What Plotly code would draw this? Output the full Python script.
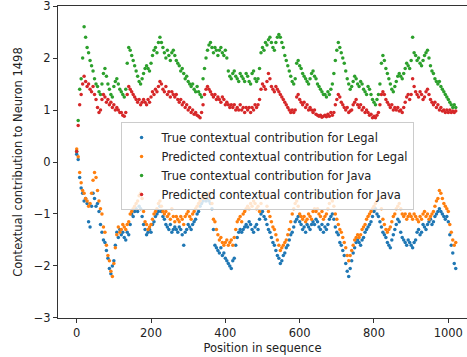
import plotly.graph_objects as go

positions = list(range(0, 1024, 4))

true_legal = [
 0.15,0.05,-0.3,-0.5,-0.6,-0.75,-0.7,-0.8,-1.15,-1.25,
 -0.85,-0.6,-0.7,-0.85,-0.8,-0.95,-1.2,-1.35,-1.5,-1.55,
 -1.7,-1.85,-2.05,-2.15,-2.0,-1.9,-1.6,-1.35,-1.45,-1.3,
 -1.4,-1.35,-1.45,-1.5,-1.35,-1.4,-1.2,-1.0,-1.05,-0.95,
 -0.9,-0.95,-0.85,-0.9,-1.05,-1.2,-1.3,-1.4,-1.35,-1.3,
 -1.35,-1.2,-1.15,-1.05,-1.0,-0.95,-0.85,-0.95,-1.05,-1.1,
 -1.2,-1.25,-1.3,-1.2,-1.35,-1.3,-1.25,-1.3,-1.35,-1.25,
 -1.3,-1.4,-1.6,-1.35,-1.3,-1.2,-1.25,-1.3,-1.2,-1.15,
 -1.1,-1.0,-0.95,-0.85,-0.8,-0.75,-0.7,-0.75,-0.7,-0.75,
 -0.8,-0.9,-1.3,-1.6,-1.65,-1.7,-1.75,-1.65,-1.8,-1.75,
 -1.85,-1.9,-1.95,-2.0,-2.05,-1.9,-1.85,-1.6,-1.45,-1.35,
 -1.3,-1.35,-1.3,-1.25,-1.2,-1.25,-1.15,-1.2,-1.3,-1.35,
 -1.25,-1.2,-1.3,-1.1,-1.0,-0.95,-1.05,-1.1,-1.2,-1.3,
 -1.35,-1.45,-1.55,-1.6,-1.7,-1.8,-1.85,-1.95,-1.9,-1.8,
 -1.75,-1.65,-1.6,-1.5,-1.4,-1.35,-1.25,-1.15,-1.1,-1.05,
 -1.15,-1.2,-1.3,-1.25,-1.35,-1.2,-1.25,-1.3,-1.2,-1.15,
 -1.2,-1.1,-1.15,-1.25,-1.3,-1.2,-1.35,-1.25,-1.3,-1.2,
 -1.1,-1.05,-1.0,-1.1,-1.25,-1.35,-1.4,-1.55,-1.6,-1.7,
 -1.8,-1.95,-2.1,-2.2,-2.05,-1.9,-1.75,-1.65,-1.55,-1.5,
 -1.55,-1.6,-1.5,-1.45,-1.35,-1.3,-1.25,-1.2,-1.15,-1.05,
 -0.95,-0.9,-1.0,-1.05,-1.15,-1.25,-1.35,-1.4,-1.45,-1.55,
 -1.6,-1.65,-1.5,-1.4,-1.3,-1.2,-1.1,-1.15,-1.35,-1.45,
 -1.5,-1.55,-1.6,-1.5,-1.55,-1.6,-1.65,-1.55,-1.5,-1.35,
 -1.3,-1.4,-1.35,-1.2,-1.25,-1.3,-1.2,-1.15,-1.1,-1.2,
 -1.15,-1.05,-1.0,-0.95,-0.9,-0.95,-1.0,-1.05,-1.1,-1.05,
 -1.15,-1.4,-1.6,-1.75,-1.95,-2.05]

pred_legal = [
 0.25,0.1,-0.2,-0.4,-0.55,-0.6,-0.7,-0.75,-0.85,-0.8,
 -0.6,-0.35,-0.2,-0.3,-0.55,-0.75,-0.9,-1.0,-1.25,-1.35,
 -1.6,-1.8,-1.9,-2.1,-2.2,-1.95,-1.65,-1.4,-1.25,-1.35,
 -1.3,-1.2,-1.25,-1.3,-1.2,-1.15,-1.0,-0.95,-0.9,-0.85,
 -0.8,-0.75,-0.65,-0.6,-0.7,-0.95,-1.15,-1.2,-1.3,-1.25,
 -1.2,-1.1,-1.0,-0.95,-0.9,-0.8,-0.75,-0.85,-0.95,-1.0,
 -0.95,-1.05,-1.0,-1.1,-0.9,-1.05,-1.15,-1.05,-1.1,-1.15,
 -1.05,-1.1,-1.2,-1.05,-1.0,-0.95,-1.05,-1.1,-1.0,-0.95,
 -0.9,-0.85,-0.8,-0.75,-0.7,-0.65,-0.7,-0.6,-0.65,-0.6,
 -0.7,-0.8,-1.1,-1.15,-1.3,-1.4,-1.5,-1.45,-1.55,-1.6,
 -1.55,-1.5,-1.6,-1.55,-1.5,-1.6,-1.45,-1.3,-1.15,-1.1,
 -1.05,-1.15,-1.0,-0.95,-0.9,-0.85,-0.9,-0.8,-0.85,-0.75,
 -0.8,-0.9,-0.85,-0.95,-0.8,-0.65,-0.6,-0.7,-0.85,-0.95,
 -1.05,-1.15,-1.25,-1.3,-1.4,-1.5,-1.6,-1.7,-1.65,-1.6,
 -1.55,-1.5,-1.4,-1.3,-1.15,-1.0,-0.9,-0.8,-0.75,-0.85,
 -1.0,-1.05,-1.1,-1.05,-1.15,-1.1,-1.0,-1.05,-1.1,-0.95,
 -0.9,-0.95,-0.9,-1.0,-1.05,-0.95,-1.1,-1.05,-1.0,-0.9,
 -0.8,-0.7,-0.75,-0.85,-1.0,-1.1,-1.2,-1.3,-1.35,-1.45,
 -1.55,-1.65,-1.8,-1.9,-1.8,-1.7,-1.6,-1.5,-1.45,-1.4,
 -1.45,-1.4,-1.3,-1.25,-1.2,-1.1,-1.05,-1.0,-0.95,-0.9,
 -0.85,-0.8,-0.75,-0.7,-0.7,-0.9,-1.1,-1.2,-1.3,-1.35,
 -1.3,-1.25,-1.15,-1.05,-1.0,-0.9,-0.85,-0.8,-0.9,-1.0,
 -1.05,-1.0,-1.1,-1.05,-1.0,-1.05,-1.1,-1.0,-1.05,-1.1,
 -1.15,-1.05,-1.1,-1.0,-0.95,-1.05,-1.0,-1.1,-1.05,-1.0,
 -0.95,-0.85,-0.75,-0.7,-0.55,-0.6,-0.7,-0.8,-0.85,-0.9,
 -0.95,-1.2,-1.35,-1.5,-1.6,-1.55]

true_java = [
 0.2,0.8,1.4,1.6,2.0,2.6,2.4,2.2,2.1,1.95,
 1.85,1.75,1.6,1.5,1.45,1.35,1.3,1.5,1.7,1.8,
 1.65,1.5,1.4,1.3,1.25,1.45,1.55,1.6,1.5,1.4,
 1.35,1.3,1.25,1.4,1.9,2.2,2.15,2.05,1.95,1.85,
 1.75,1.65,1.55,1.5,1.6,1.7,1.8,1.85,1.8,1.75,
 1.9,2.05,2.15,2.2,2.1,2.3,2.4,2.3,2.2,2.1,
 2.0,2.15,2.05,1.95,2.1,2.15,2.05,1.95,1.9,1.85,
 1.75,1.8,1.7,1.6,1.65,1.55,1.5,1.45,1.5,1.4,
 1.35,1.45,1.35,1.3,1.25,1.6,1.8,2.0,2.15,2.25,
 2.3,2.2,2.1,2.2,2.15,2.05,2.15,2.2,2.1,2.05,
 2.15,2.0,1.75,1.65,1.6,1.7,1.75,1.65,1.6,1.55,
 1.7,1.65,1.6,1.55,1.7,1.65,1.55,1.5,1.7,1.75,
 1.6,1.55,1.6,1.8,2.1,2.2,2.15,2.3,2.25,2.35,
 2.4,2.3,2.2,2.15,2.3,2.4,2.45,2.4,2.3,2.2,
 2.05,1.95,1.85,1.75,1.65,1.55,1.5,1.6,1.9,1.95,
 1.85,1.8,1.7,1.65,1.6,1.55,1.5,1.6,1.7,1.75,
 1.65,1.6,1.5,1.45,1.4,1.35,1.3,1.3,1.25,1.35,
 1.3,1.4,1.5,1.7,1.95,2.15,2.3,2.2,2.1,2.0,
 1.9,1.75,1.6,1.5,1.4,1.45,1.55,1.65,1.6,1.5,
 1.45,1.55,1.5,1.4,1.35,1.3,1.45,1.4,1.3,1.2,
 1.15,1.1,1.2,1.3,1.5,1.9,2.05,1.95,1.8,1.7,
 1.6,1.5,1.4,1.35,1.45,1.55,1.65,1.7,1.65,1.6,
 1.7,1.8,1.9,1.85,1.8,1.95,2.4,2.1,2.05,1.95,
 2.0,1.9,1.85,1.95,2.05,2.1,2.15,2.0,1.85,1.75,
 1.7,1.6,1.55,1.5,1.55,1.45,1.4,1.35,1.3,1.25,
 1.2,1.15,1.1,1.05,1.1,1.05]

pred_java = [
 0.2,0.7,1.1,1.3,1.5,1.65,1.55,1.45,1.5,1.4,
 1.35,1.45,1.3,1.2,1.05,0.95,1.0,1.2,1.3,1.25,
 1.15,1.2,1.1,1.15,1.05,1.1,1.0,1.05,1.0,0.95,
 0.95,0.9,0.88,0.95,1.3,1.45,1.4,1.35,1.3,1.25,
 1.2,1.15,1.2,1.1,1.15,1.2,1.15,1.1,1.2,1.15,
 1.25,1.35,1.3,1.4,1.35,1.45,1.55,1.5,1.4,1.35,
 1.45,1.3,1.35,1.25,1.35,1.3,1.25,1.3,1.2,1.15,
 1.2,1.1,1.15,1.05,1.1,1.0,1.05,0.95,1.0,0.92,
 0.95,0.9,0.88,0.85,0.95,1.1,1.3,1.4,1.45,1.4,
 1.35,1.3,1.25,1.3,1.2,1.25,1.2,1.15,1.25,1.2,
 1.1,1.15,1.1,1.05,1.1,1.05,1.1,1.0,1.05,1.0,
 1.1,1.0,1.05,0.95,1.05,1.0,1.05,0.95,1.05,1.0,
 1.1,1.05,1.1,1.2,1.4,1.5,1.45,1.4,1.55,1.7,
 1.6,1.45,1.4,1.35,1.45,1.4,1.35,1.3,1.25,1.2,
 1.15,1.1,1.05,1.0,0.95,1.0,0.95,1.0,1.25,1.3,
 1.2,1.15,1.1,1.15,1.05,1.1,1.0,1.05,1.0,0.95,
 1.0,0.92,0.9,0.88,0.9,0.86,0.88,0.9,0.87,0.92,
 0.88,0.95,0.9,0.95,1.1,1.2,1.3,1.25,1.15,1.1,
 1.05,1.0,1.05,0.95,0.98,1.0,1.1,1.15,1.2,1.1,
 1.05,1.1,1.0,1.05,0.95,1.0,0.95,0.9,0.92,0.85,
 0.88,0.85,0.9,0.95,1.1,1.3,1.35,1.3,1.2,1.15,
 1.1,1.05,1.1,1.0,1.05,1.0,1.05,0.98,1.0,0.95,
 1.05,1.15,1.25,1.3,1.2,1.3,1.6,1.45,1.35,1.3,
 1.25,1.35,1.3,1.2,1.25,1.35,1.4,1.3,1.2,1.15,
 1.1,1.15,1.05,1.1,1.0,1.05,0.98,1.0,0.95,1.0,
 0.95,1.0,0.95,0.98,0.95,0.98]

series_names = [
    "True contextual contribution for Legal",
    "Predicted contextual contribution for Legal",
    "True contextual contribution for Java",
    "Predicted contextual contribution for Java",
]
series_values = [true_legal, pred_legal, true_java, pred_java]
series_colors = ["#1f77b4", "#ff7f0e", "#2ca02c", "#d62728"]

x_ticks = [0, 200, 400, 600, 800, 1000]
y_ticks = [-3, -2, -1, 0, 1, 2, 3]

FONT = "DejaVu Sans"
FS = 11.5
TXT = "#222222"

fig = go.Figure()
for name, vals, col in zip(series_names, series_values, series_colors):
    fig.add_trace(go.Scatter(
        x=positions, y=vals, mode="markers", name=name,
        marker=dict(color=col, size=3.5, line=dict(width=0)),
    ))

fig.update_layout(
    width=467, height=357,
    margin=dict(l=58, r=0, t=6, b=39),
    paper_bgcolor="white", plot_bgcolor="white",
    font=dict(family=FONT, size=FS, color=TXT),
    showlegend=True,
    legend=dict(
        x=0.153, y=0.628, xanchor="left", yanchor="top",
        bgcolor="rgba(255,255,255,0.8)", bordercolor="#cccccc", borderwidth=1,
        font=dict(family=FONT, size=FS, color=TXT),
        itemsizing="trace",
    ),
    xaxis=dict(
        range=[-50.3, 1050.3], tickvals=x_ticks, ticks="outside", ticklen=4,
        tickcolor="#333333", showline=True, linecolor="#333333", linewidth=1,
        mirror=True, showgrid=False, zeroline=False,
        tickfont=dict(family=FONT, size=FS, color=TXT),
        ticklabeloverflow="allow",
        title=dict(text="Position in sequence", standoff=5,
                   font=dict(family=FONT, size=FS, color=TXT)),
        automargin=False,
    ),
    yaxis=dict(
        range=[-3.0005, 3.0005], tickvals=y_ticks, ticks="outside", ticklen=4,
        tickcolor="#333333", showline=True, linecolor="#333333", linewidth=1,
        showgrid=False, zeroline=False,
        tickfont=dict(family=FONT, size=FS, color=TXT),
        ticklabeloverflow="allow",
        title=dict(text="Contextual contribution to Neuron 1498", standoff=8,
                   font=dict(family=FONT, size=FS, color=TXT)),
        automargin=False,
    ),
)

fig.write_html("out.html")
